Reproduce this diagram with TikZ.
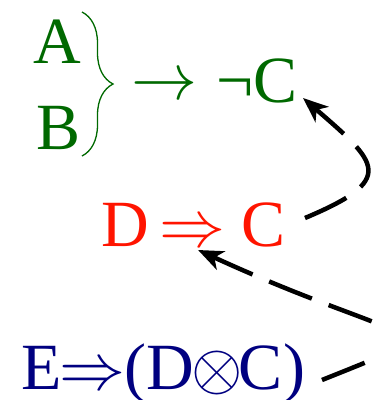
\RequirePackage{fix-cm}
\documentclass[tikz,border=0pt]{standalone}
\usepackage{fontspec}
\setmainfont{Liberation Serif}
\usetikzlibrary{arrows.meta,decorations.pathreplacing}
\definecolor{dgreen}{RGB}{0,105,0}
\definecolor{dred}{RGB}{255,20,0}
\definecolor{dnavy}{RGB}{0,0,128}
\begin{document}
\begin{tikzpicture}[x=1pt,y=1pt,
  lbl/.style={inner sep=0pt,font=\fontsize{66}{70}\selectfont},
  dasharrow/.style={line width=4.5pt,dash pattern=on 46pt off 18pt,
    -{Stealth[length=25pt,width=20pt,inset=7pt]}}]
\useasboundingbox (0,0) rectangle (379,-400);
% green group
\node[lbl,dgreen,anchor=base west] (A) at (33,-63) {A};
\node[lbl,dgreen,anchor=base west] (B) at (36,-149) {B};
\draw[dgreen,line width=1.3pt,decorate,decoration={brace,amplitude=31pt,aspect=0.5}]
  (82,-12) coordinate (brtop) -- (82,-156) coordinate (brbot);
\node[lbl,dgreen,anchor=base] (arr) at (165,-99.5) {$\rightarrow$};
\node[lbl,dgreen,anchor=base west] (negC) at (216,-102) {¬C};
% red
\node[lbl,dred,anchor=base west] (red) at (101,-246) {D\hspace{10.7pt}$\Rightarrow$\hspace{15.7pt}C};
% blue
\node[lbl,dnavy,anchor=base west] (blue) at (21,-389) {E\hspace{-2pt}$\Rightarrow$\hspace{-1pt}(D\hspace{-2.5pt}$\otimes$\hspace{-4pt}C)};
% connector ends
\coordinate (s1) at (305,-218);
\coordinate (e1) at (303,-98);
\coordinate (s2) at (322,-380);
\coordinate (e2) at (198,-250);
\draw[dasharrow] (s1) .. controls (397,-179.4) and (378.6,-163.4) .. (e1);
\draw[dasharrow] (s2) .. controls (461,-324) and (416,-350) .. (e2);
\end{tikzpicture}
\end{document}
